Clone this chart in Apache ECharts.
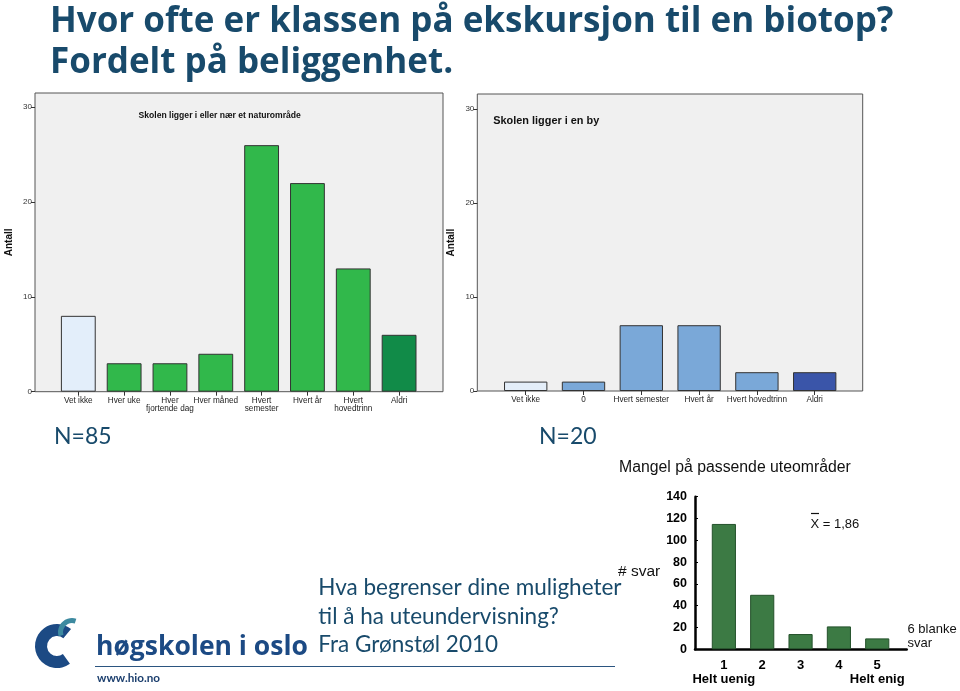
<!DOCTYPE html>
<html><head><meta charset="utf-8">
<script src="https://cdn.jsdelivr.net/npm/echarts@6/dist/echarts.min.js"></script>
<style>html,body{margin:0;padding:0;background:#fff}#c{width:960px;height:691px}</style>
</head><body><div id="c"></div><script>
// ---- data ----
const natureCategories = ['Vet ikke','Hver uke','Hver\nfjortende dag','Hver måned','Hvert\nsemester','Hvert år','Hvert\nhovedtrinn','Aldri'];
const natureCounts = [8, 3, 3, 4, 26, 22, 13, 6];
const cityCategories = ['Vet ikke','0','Hvert semester','Hvert år','Hvert hovedtrinn','Aldri'];
const cityCounts = [1, 1, 7, 7, 2, 2];
const agreeCategories = ['1','2','3','4','5'];
const agreeEnds = ['Helt uenig','','','','Helt enig'];
const agreeCounts = [115, 50, 14, 21, 10];
const spssTicks = [0, 10, 20, 30];

// ---- styles ----
const natureColors = ['#e3eefa','#31b84b','#31b84b','#31b84b','#31b84b','#31b84b','#31b84b','#118b48'];
const cityColors = ['#e4eef9','#7aa8d8','#7aa8d8','#7aa8d8','#7aa8d8','#3a55a9'];
const navy = '#184a6b';
const lato = 'Lato, "Open Sans", sans-serif';
const open = '"Open Sans", Lato, sans-serif';
const arial = '"Liberation Sans", Arial, sans-serif';

const chart = echarts.init(document.getElementById('c'), null, {renderer:'canvas'});

function spssY(gridIndex, visible, max) {
  return {
    gridIndex, type:'value', min:0, max, show: visible,
    axisLine:{show:false},
    axisTick:{show:true, customValues:spssTicks, length:4, lineStyle:{color:'#333'}},
    axisLabel:{customValues:spssTicks, fontSize:8, color:'#333', margin:3, fontFamily:arial},
    splitLine:{show:false},
    name: visible ? 'Antall' : '', nameLocation:'middle', nameRotate:90, nameGap:21,
    nameTextStyle:{fontWeight:'bold', fontSize:10, color:'#111', fontFamily:arial}
  };
}
function spssX(gridIndex, cats) {
  return {
    gridIndex, type:'category', data:cats,
    axisLine:{show:false},
    axisTick:{show:true, alignWithLabel:true, length:4, lineStyle:{color:'#333'}},
    axisLabel:{interval:0, fontSize:8.2, lineHeight:8, color:'#222', margin:5, fontFamily:arial},
    splitLine:{show:false}
  };
}
function hiddenValueX(gridIndex) {
  return {gridIndex, type:'value', min:0, max:1, show:false};
}

const option = {
  animation:false,
  backgroundColor:'#fff',
  grid:[
    {left:35, top:93, width:408, height:298.7, show:true, backgroundColor:'#f0f0f0', borderColor:'#555', borderWidth:1},
    {left:55.4, top:93, width:366.6, height:298.7},
    {left:477.3, top:94, width:385.4, height:297, show:true, backgroundColor:'#f0f0f0', borderColor:'#555', borderWidth:1},
    {left:496.8, top:94, width:346.8, height:297},
    {left:695, top:496.7, width:211.7, height:152.6},
    {left:704.7, top:496.7, width:191.7, height:152.6}
  ],
  xAxis:[
    hiddenValueX(0),
    spssX(1, natureCategories),
    hiddenValueX(2),
    spssX(3, cityCategories),
    {gridIndex:4, type:'value', min:0, max:1,
      axisLine:{show:true, onZero:false, lineStyle:{color:'#000', width:2.5}},
      axisTick:{show:false}, axisLabel:{show:false}, splitLine:{show:false}},
    {gridIndex:5, type:'category', data:agreeCategories,
      axisLine:{show:false}, axisTick:{show:false},
      axisLabel:{interval:0, fontSize:13, fontWeight:'bold', lineHeight:14, color:'#000', margin:9, fontFamily:arial,
        formatter:(v, i) => v + '\n' + agreeEnds[i]}}
  ],
  yAxis:[
    spssY(0, true, 31.5),
    {gridIndex:1, type:'value', min:0, max:31.5, show:false},
    spssY(2, true, 31.6),
    {gridIndex:3, type:'value', min:0, max:31.6, show:false},
    {gridIndex:4, type:'value', min:0, max:140, interval:20,
      axisLine:{show:true, onZero:false, lineStyle:{color:'#000', width:2.5}},
      axisTick:{show:true, inside:true, length:3, lineStyle:{color:'#000'}},
      axisLabel:{fontSize:12.5, fontWeight:'bold', color:'#000', margin:8, fontFamily:arial},
      splitLine:{show:false}},
    {gridIndex:5, type:'value', min:0, max:140, show:false}
  ],
  series:[
    {type:'bar', xAxisIndex:1, yAxisIndex:1, barCategoryGap:'24%',
      itemStyle:{borderColor:'#333', borderWidth:1},
      data: natureCounts.map((v,i)=>({value:v, itemStyle:{color:natureColors[i]}}))},
    {type:'bar', xAxisIndex:3, yAxisIndex:3, barCategoryGap:'25%',
      itemStyle:{borderColor:'#333', borderWidth:1},
      data: cityCounts.map((v,i)=>({value:v, itemStyle:{color:cityColors[i]}}))},
    {type:'bar', xAxisIndex:5, yAxisIndex:5, barCategoryGap:'37%',
      itemStyle:{color:'#3c7a44', borderColor:'#24512b', borderWidth:1},
      data: agreeCounts}
  ],
  graphic:[
    {type:'text', x:50, y:22, style:{text:'Hvor ofte er klassen på ekskursjon til en biotop?', font:'bold 35px '+open, fill:navy, textVerticalAlign:'middle'}},
    {type:'text', x:50, y:63, style:{text:'Fordelt på beliggenhet.', font:'bold 35px '+open, fill:navy, textVerticalAlign:'middle'}},
    {type:'text', x:219.7, y:116, style:{text:'Skolen ligger i eller nær et naturområde', font:'bold 8.6px '+arial, fill:'#111', textAlign:'center', textVerticalAlign:'middle'}},
    {type:'text', x:493.3, y:120.7, style:{text:'Skolen ligger i en by', font:'bold 10.9px '+arial, fill:'#111', textAlign:'left', textVerticalAlign:'middle'}},
    {type:'text', x:54, y:437, style:{text:'N=85', font:'23px '+lato, fill:navy, textVerticalAlign:'middle'}},
    {type:'text', x:539, y:437, style:{text:'N=20', font:'23px '+lato, fill:navy, textVerticalAlign:'middle'}},
    {type:'text', x:619, y:467.5, style:{text:'Mangel på passende uteområder', font:'15.8px '+arial, fill:'#111', textVerticalAlign:'middle'}},
    {type:'text', x:618, y:571.7, style:{text:'# svar', font:'15.5px '+arial, fill:'#111', textVerticalAlign:'middle'}},
    {type:'text', x:810.5, y:524, style:{text:'X = 1,86', font:'13px '+arial, fill:'#111', textVerticalAlign:'middle'}},
    {type:'line', shape:{x1:811, y1:513.5, x2:819, y2:513.5}, style:{stroke:'#111', lineWidth:1.2}},
    {type:'text', x:907.5, y:629, style:{text:'6 blanke', font:'13px '+arial, fill:'#111', textVerticalAlign:'middle'}},
    {type:'text', x:907.5, y:643.3, style:{text:'svar', font:'13px '+arial, fill:'#111', textVerticalAlign:'middle'}},
    {type:'text', x:318.3, y:588, style:{text:'Hva begrenser dine muligheter', font:'22.5px '+lato, fill:navy, textVerticalAlign:'middle'}},
    {type:'text', x:318.3, y:617, style:{text:'til å ha uteundervisning?', font:'22.5px '+lato, fill:navy, textVerticalAlign:'middle'}},
    {type:'text', x:318.3, y:645, style:{text:'Fra Grønstøl 2010', font:'22.5px '+lato, fill:navy, textVerticalAlign:'middle'}},
    {type:'line', shape:{x1:95, y1:666.5, x2:615, y2:666.5}, style:{stroke:'#2b5580', lineWidth:1.2}},
    {type:'sector', shape:{cx:57, cy:646, r:22, r0:10, startAngle:Math.PI*0.3, endAngle:Math.PI*1.72}, style:{fill:'#1c4a84'}},
    {type:'sector', shape:{cx:72, cy:632, r:14, r0:9, startAngle:Math.PI*0.9, endAngle:Math.PI*1.6}, style:{fill:'#3d8aa0'}},
    {type:'text', x:96, y:647, style:{text:'høgskolen i oslo', font:'bold 26.5px '+open, fill:'#1c4a84', textVerticalAlign:'middle'}},
    {type:'text', x:97, y:678, style:{text:'www.hio.no', font:'bold 11.7px '+lato, fill:'#1c3f6e', textVerticalAlign:'middle'}}
  ]
};
chart.setOption(option);
</script></body></html>
